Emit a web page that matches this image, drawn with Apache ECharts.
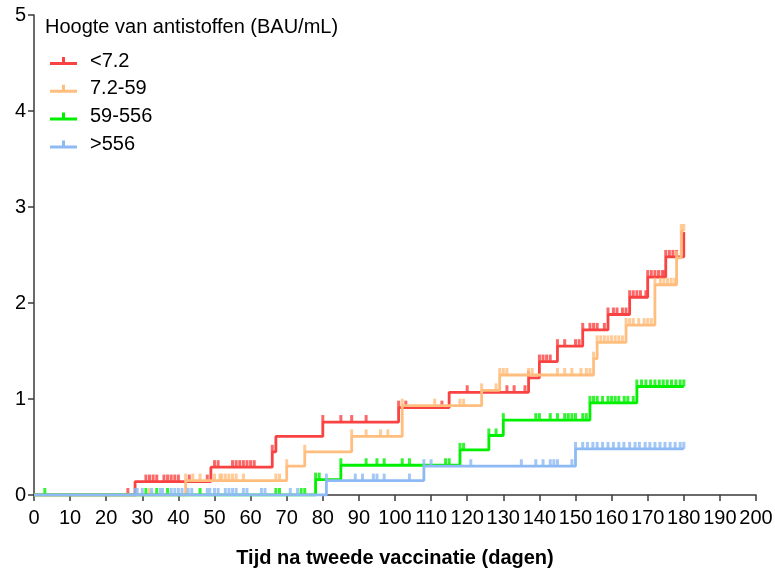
<!DOCTYPE html>
<html>
<head>
<meta charset="utf-8">
<script src="https://cdn.jsdelivr.net/npm/echarts@6/dist/echarts.min.js"></script>
<style>
  html, body { margin: 0; padding: 0; background: #fff; }
  #chart { width: 775px; height: 571px; }
</style>
</head>
<body>
<div id="chart"></div>
<script>
// Cumulative incidence per antibody group: step times (days) and levels
const groupNames = ['<7.2', '7.2-59', '59-556', '>556'];
const groupColors = ['#F94242', '#FFBE7E', '#00F000', '#8DBAF4'];

const redTimes  = [0, 28, 49, 66, 67, 80, 101, 115, 137, 140, 145, 152, 159, 165, 170, 175, 180];
const redLevels = [0, 0.14, 0.29, 0.45, 0.61, 0.76, 0.91, 1.07, 1.22, 1.39, 1.55, 1.72, 1.88, 2.06, 2.27, 2.48, 2.74];
const redCensored = [26, 31, 32, 33, 34, 36, 37, 38, 39, 40, 43, 48, 50, 51, 55, 56, 57, 58, 59, 60, 61, 66,
  80, 85, 88, 92, 101, 103, 113, 120, 131, 133, 136, 137, 140, 141, 142, 143, 145, 147, 150, 151,
  152, 154, 155, 156, 158, 159, 160.5, 161.5, 163, 164, 165, 166, 167, 168, 169.5, 170, 171, 172,
  173, 174, 174.5, 175, 176, 177, 178];

const orangeTimes  = [0, 42, 70, 75, 88, 102, 124, 129, 155, 156, 164, 172, 178, 179.3, 180];
const orangeLevels = [0, 0.15, 0.30, 0.45, 0.61, 0.93, 1.09, 1.25, 1.42, 1.59, 1.77, 2.19, 2.47, 2.75, 2.75];
const orangeCensored = [32, 42, 44, 46, 50, 51.5, 52, 53, 54, 55, 56, 58, 67, 68, 70, 75, 88, 92, 96, 98,
  102, 111, 118, 119, 124, 128, 129, 130, 131, 137, 138, 145, 147, 149, 151.5, 153, 154, 155, 156,
  157, 158, 159, 160, 161, 162, 163, 164, 165, 166, 167.5, 169, 170, 171, 172, 173.5, 174.5, 175.5,
  176.5, 177.5, 178, 179.3, 180];

const greenTimes  = [0, 78, 85, 118, 126, 130, 154, 167, 180];
const greenLevels = [0, 0.16, 0.31, 0.47, 0.62, 0.78, 0.96, 1.13, 1.13];
const greenCensored = [3, 31, 34, 37, 46, 67, 68, 74, 75, 78, 79, 85, 92, 95, 97, 102, 104, 114, 115,
  118, 119, 126, 128, 130, 139, 140, 143, 145, 147, 148, 149, 150, 152, 153, 154, 155, 156, 157.5,
  159, 160, 161, 162, 163.5, 164.5, 166, 167, 168.3, 169.5, 170.8, 172, 173.2, 174.3, 175.4, 176.6,
  177.8, 179, 180];

const blueTimes  = [0, 81, 108, 150, 180];
const blueLevels = [0, 0.15, 0.30, 0.48, 0.48];
const blueCensored = [28, 28.6, 30, 32.6, 35, 35.6, 38, 39, 40, 41, 42.7, 43.7, 48, 48.7, 50, 51, 53, 54,
  55, 56, 58, 59, 63, 64, 71, 73, 81, 89, 91, 94, 95, 97, 104, 108, 110, 121, 135, 139, 141, 143,
  144, 145, 149, 150, 152, 153.3, 154.8, 156, 157.5, 159, 160.5, 162, 163.4, 165, 166.5, 167.7,
  169.3, 170.6, 172, 173.4, 174.8, 176.2, 177.6, 179, 180];

const xTicks = { min: 0, max: 200, interval: 10 };
const yTicks = { min: 0, max: 5, interval: 1 };

const groups = [
  [redTimes, redLevels, redCensored],
  [orangeTimes, orangeLevels, orangeCensored],
  [greenTimes, greenLevels, greenCensored],
  [blueTimes, blueLevels, blueCensored]
];

// level of a step curve at time t (value of the last step at or before t)
function levelAt(times, levels, t) {
  let v = levels[0];
  for (let i = 0; i < times.length; i++) {
    if (times[i] <= t + 1e-9) v = levels[i];
  }
  return v;
}

const FONT = 'Arial, "Liberation Sans", sans-serif';
const series = [];
groups.forEach(function (g, i) {
  const times = g[0], levels = g[1], cens = g[2];
  series.push({
    name: groupNames[i],
    type: 'line',
    step: 'end',
    showSymbol: false,
    symbol: 'none',
    lineStyle: { color: groupColors[i], width: 2.8 },
    itemStyle: { color: groupColors[i] },
    data: times.map(function (t, k) { return [t, levels[k]]; }),
    z: 2 + i,
    silent: true
  });
  series.push({
    name: groupNames[i] + ' censored',
    type: 'scatter',
    symbol: 'rect',
    symbolSize: [3, 7],
    symbolOffset: [0, -3.5],
    itemStyle: { color: groupColors[i] },
    data: cens.map(function (t) { return [t, levelAt(times, levels, t)]; }),
    z: 2 + i,
    silent: true
  });
});

const chart = echarts.init(document.getElementById('chart'), null, { renderer: 'canvas' });
chart.setOption({
  animation: false,
  backgroundColor: '#fff',
  title: {
    text: 'Hoogte van antistoffen (BAU/mL)',
    left: 45,
    top: 17,
    padding: 0,
    textStyle: { fontFamily: FONT, fontSize: 20, fontWeight: 'normal', color: '#000', lineHeight: 20 }
  },
  legend: {
    data: groupNames,
    orient: 'vertical',
    left: 50,
    top: 51,
    padding: 0,
    itemWidth: 27,
    itemHeight: 8,
    itemGap: 7.8,
    icon: 'path://M0,5 L27,5 L27,8 L0,8 Z M12,0 L15,0 L15,5 L12,5 Z',
    textStyle: { fontFamily: FONT, fontSize: 20, color: '#000', lineHeight: 20, padding: [0, 0, 0, 8] },
    selectedMode: false
  },
  grid: { left: 34, right: 19, top: 15, bottom: 76, containLabel: false, outerBoundsMode: 'none' },
  xAxis: {
    type: 'value',
    min: xTicks.min, max: xTicks.max, interval: xTicks.interval,
    name: 'Tijd na tweede vaccinatie (dagen)',
    nameLocation: 'middle',
    nameGap: 53,
    nameTextStyle: { fontFamily: FONT, fontSize: 20, fontWeight: 'bold', color: '#000' },
    axisLine: { show: true, lineStyle: { color: '#3a3a3a', width: 1.5 } },
    axisTick: { show: true, length: 6, lineStyle: { color: '#3a3a3a', width: 1.5 } },
    axisLabel: { fontFamily: FONT, fontSize: 20, color: '#000', margin: 13, hideOverlap: false },
    splitLine: { show: false }
  },
  yAxis: {
    type: 'value',
    min: yTicks.min, max: yTicks.max, interval: yTicks.interval,
    axisLine: { show: true, lineStyle: { color: '#3a3a3a', width: 1.5 } },
    axisTick: { show: true, length: 6, lineStyle: { color: '#3a3a3a', width: 1.5 } },
    axisLabel: { fontFamily: FONT, fontSize: 20, color: '#000', margin: 8 },
    splitLine: { show: false }
  },
  series: series
});
</script>
</body>
</html>
